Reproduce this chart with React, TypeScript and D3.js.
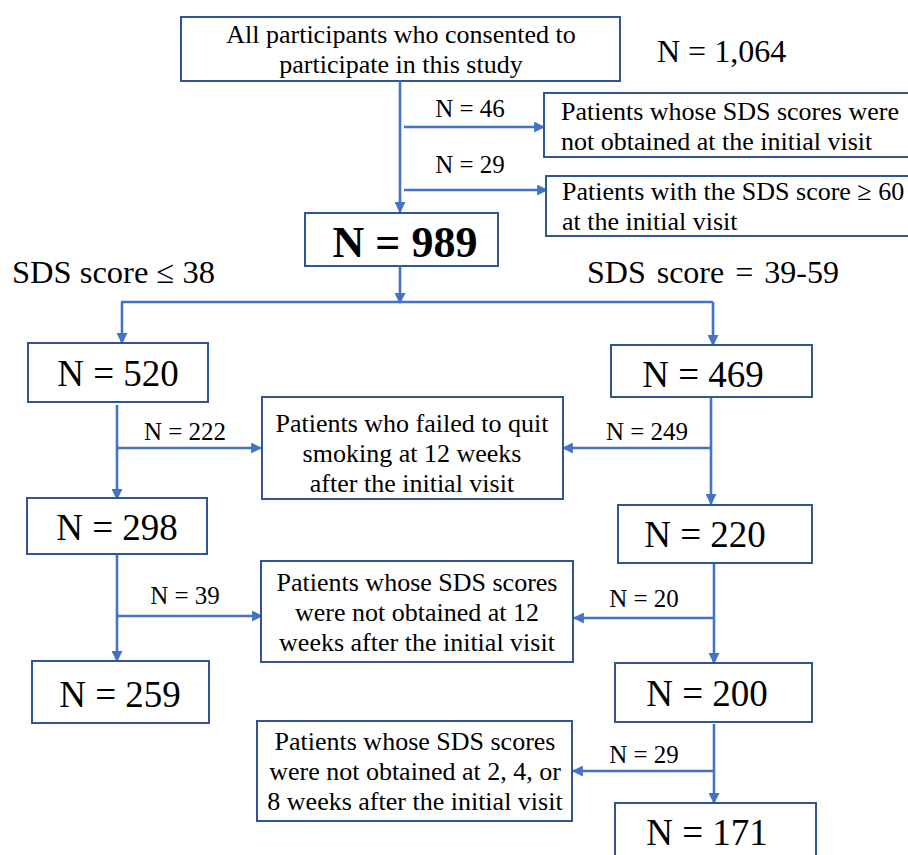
import React from 'react';
import * as d3 from 'd3';

// values
const totalLabel = "N = 1,064";
const topBoxLines = ["All participants who consented to", "participate in this study"];
const initialExcluded = [46, 29];
const initialReasons = [
  ["Patients whose SDS scores were", "not obtained at the initial visit"],
  ["Patients with the SDS score \u2265 60", "at the initial visit"],
];
const enrolledN = 989;
const groupTitles = ["SDS score \u2264 38", "SDS score = 39-59"];
const lowCounts = [520, 298, 259];
const highCounts = [469, 220, 200, 171];
const lowExcluded = [222, 39];
const highExcluded = [249, 20, 29];
const middleReasons = [
  ["Patients who failed to quit", "smoking at 12 weeks", "after the initial visit"],
  ["Patients whose SDS scores", "were not obtained at 12", "weeks after the initial visit"],
  ["Patients whose SDS scores", "were not obtained at 2, 4, or", "8 weeks after the initial visit"],
];

const W = 908;
const H = 855;
const LINE = "#4472c4";
const BORDER = "#2f5597";
const FONT = '"Liberation Serif", "DejaVu Serif", serif';
const BOX_TEXT = 26;

const line = d3.line<[number, number]>();

function Box({ x, y, w, h }: { x: number; y: number; w: number; h: number }) {
  return <rect x={x} y={y} width={w} height={h} fill="#fff" stroke={BORDER} strokeWidth={2} />;
}

function Arrow({ pts, head = true }: { pts: [number, number][]; head?: boolean }) {
  return (
    <path d={line(pts) || ""} fill="none" stroke={LINE} strokeWidth={2.6}
      markerEnd={head ? "url(#ah)" : undefined} />
  );
}

function Lines({ lines, x, y0, dy, size, anchor = "middle" }:
  { lines: string[]; x: number; y0: number; dy: number; size: number; anchor?: string }) {
  return (
    <text fontSize={size} textAnchor={anchor as any} fill="#000">
      {lines.map((l, i) => <tspan key={i} x={x} y={y0 + i * dy}>{l}</tspan>)}
    </text>
  );
}

function Count({ n, cx, y, size = 37 }: { n: number; cx: number; y: number; size?: number }) {
  return <text x={cx} y={y} fontSize={size} textAnchor="middle">{"N = " + n}</text>;
}

function Label({ n, cx, y }: { n: number; cx: number; y: number }) {
  return <text x={cx} y={y} fontSize={25} textAnchor="middle">{"N = " + n}</text>;
}

export default function App() {
  // left column boxes, right column boxes
  const lowBoxes = [
    { x: 28, y: 343, w: 180, h: 59, cx: 118, ty: 386 },
    { x: 27, y: 498, w: 180, h: 56, cx: 117, ty: 540 },
    { x: 32, y: 661, w: 177, h: 62, cx: 120, ty: 707 },
  ];
  const highBoxes = [
    { x: 611, y: 345, w: 201, h: 52, cx: 703, ty: 387 },
    { x: 618, y: 505, w: 194, h: 58, cx: 705, ty: 547 },
    { x: 615, y: 663, w: 197, h: 59, cx: 707, ty: 706 },
    { x: 615, y: 803, w: 201, h: 80, cx: 707, ty: 845 },
  ];
  const midBoxes = [
    { x: 262, y: 397, w: 301, h: 102, cx: 412, ty: 432 },
    { x: 261, y: 561, w: 312, h: 101, cx: 417, ty: 591 },
    { x: 257, y: 721, w: 315, h: 100, cx: 415, ty: 750 },
  ];

  return (
    <svg width={W} height={H} style={{ position: 'absolute', left: 0, top: 0, background: '#fff', fontFamily: FONT }}>
      <defs>
        <marker id="ah" viewBox="0 0 10 10" refX={9} refY={5} markerWidth={11} markerHeight={11}
          markerUnits="userSpaceOnUse" orient="auto">
          <path d="M0,0 L10,5 L0,10 z" fill={LINE} />
        </marker>
      </defs>

      {/* top */}
      <Box x={181} y={17} w={439} h={64} />
      <Lines lines={topBoxLines} x={401} y0={43} dy={30} size={BOX_TEXT} />
      <text x={657} y={62} fontSize={32}>{totalLabel}</text>

      <Arrow pts={[[400, 81], [400, 212]]} />
      <Arrow pts={[[404, 127], [544, 127]]} />
      <Arrow pts={[[404, 190], [547, 190]]} />
      <Label n={initialExcluded[0]} cx={470} y={117} />
      <Label n={initialExcluded[1]} cx={470} y={173} />

      <Box x={544} y={93} w={380} h={64} />
      <Lines lines={initialReasons[0]} x={561} y0={120} dy={30} size={BOX_TEXT} anchor="start" />
      <Box x={546} y={176} w={380} h={60} />
      <Lines lines={initialReasons[1]} x={562} y0={200} dy={30} size={BOX_TEXT} anchor="start" />

      <Box x={305} y={213} w={193} h={53} />
      <text x={405} y={257} fontSize={44} fontWeight="bold" textAnchor="middle">{"N = " + enrolledN}</text>

      <text x={12} y={283} fontSize={32.5}>{groupTitles[0]}</text>
      <text x={587} y={283} fontSize={32} wordSpacing={3}>{groupTitles[1]}</text>

      {/* split */}
      <Arrow pts={[[400, 266], [400, 303]]} />
      <Arrow pts={[[121, 302], [713, 302]]} head={false} />
      <Arrow pts={[[122, 302], [122, 343]]} />
      <Arrow pts={[[713, 302], [713, 345]]} />

      {/* left column */}
      <Arrow pts={[[117, 405], [117, 499]]} />
      <Arrow pts={[[117, 448], [261, 448]]} />
      <Label n={lowExcluded[0]} cx={185} y={440} />
      <Arrow pts={[[117, 554], [117, 661]]} />
      <Arrow pts={[[117, 616], [262, 616]]} />
      <Label n={lowExcluded[1]} cx={185} y={604} />

      {/* right column */}
      <Arrow pts={[[711, 397], [711, 504]]} />
      <Arrow pts={[[711, 448], [563, 448]]} />
      <Label n={highExcluded[0]} cx={647} y={440} />
      <Arrow pts={[[714, 563], [714, 663]]} />
      <Arrow pts={[[714, 618], [574, 618]]} />
      <Label n={highExcluded[1]} cx={644} y={607} />
      <Arrow pts={[[714, 724], [714, 803]]} />
      <Arrow pts={[[714, 771], [573, 771]]} />
      <Label n={highExcluded[2]} cx={644} y={763} />

      {lowBoxes.map((b, i) => (
        <g key={"l" + i}>
          <Box x={b.x} y={b.y} w={b.w} h={b.h} />
          <Count n={lowCounts[i]} cx={b.cx} y={b.ty} />
        </g>
      ))}
      {highBoxes.map((b, i) => (
        <g key={"h" + i}>
          <Box x={b.x} y={b.y} w={b.w} h={b.h} />
          <Count n={highCounts[i]} cx={b.cx} y={b.ty} />
        </g>
      ))}
      {midBoxes.map((b, i) => (
        <g key={"m" + i}>
          <Box x={b.x} y={b.y} w={b.w} h={b.h} />
          <Lines lines={middleReasons[i]} x={b.cx} y0={b.ty} dy={30} size={BOX_TEXT} />
        </g>
      ))}
    </svg>
  );
}
